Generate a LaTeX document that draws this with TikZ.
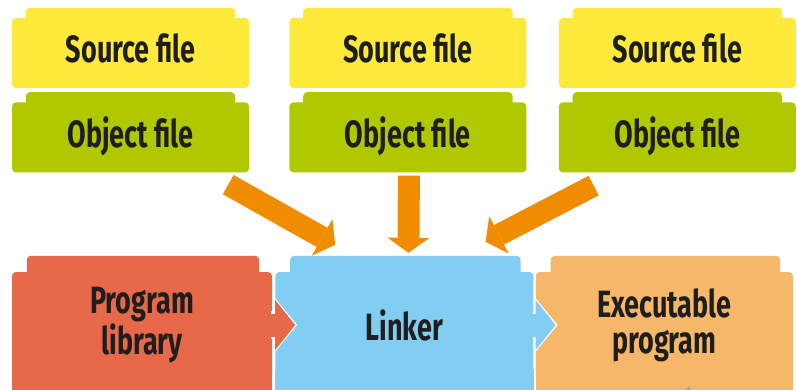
\documentclass[tikz,border=0pt]{standalone}
\usepackage{fontspec}
\setmainfont{Fira Sans}[FakeStretch=0.71]
\usetikzlibrary{arrows.meta, positioning, calc}

\definecolor{srcyellow}{RGB}{255,234,60}
\definecolor{objgreen}{RGB}{175,200,0}
\definecolor{feedorange}{RGB}{240,140,0}
\definecolor{libred}{RGB}{232,104,74}
\definecolor{linkblue}{RGB}{130,205,242}
\definecolor{exeorange}{RGB}{245,183,106}
\definecolor{inkblack}{RGB}{30,30,30}

\begin{document}
\begin{tikzpicture}[
    x=1pt, y=1pt,
    font=\fontsize{38}{36}\selectfont\bfseries,
    filebox/.style={rectangle, rounded corners=4pt, fill=#1, text=inkblack,
                    minimum width=237pt, minimum height=70pt, inner sep=0pt,
                    text height=27pt, text depth=7pt},
    stagebox/.style={rectangle, rounded corners=4pt, fill=#1, text=inkblack,
                     minimum height=106pt, inner sep=0pt, align=center},
    feed/.style={line width=22pt, feedorange,
                 -{Triangle[length=15pt, width=42pt, line width=0pt]}},
    handoff/.style={line width=23pt, #1,
                    -{Triangle[length=20pt, width=50pt, line width=0pt]}},
    rim/.style={line width=28pt, white,
                -{Triangle[length=24pt, width=58pt, line width=0pt]}},
    stubarr/.style={line width=2pt, gray!70, -{Triangle[length=6pt, width=8pt]}},
    node distance=14pt and 40pt
  ]
  \useasboundingbox (0,0) rectangle (797,389);
  \clip (0,0) rectangle (797,389);

  % source and object files
  \node[filebox=srcyellow] (s1) at (130.5,336) {Source file};
  \node[filebox=srcyellow, right=40pt of s1] (s2) {Source file};
  \node[filebox=srcyellow, right=32pt of s2] (s3) {Source file};
  \node[filebox=objgreen, below=of s1] (o1) {Object file};
  \node[filebox=objgreen, below=of s2] (o2) {Object file};
  \node[filebox=objgreen, below=of s3] (o3) {Object file};

  % bottom row
  \node[stagebox=libred, minimum width=260pt] (pl) at (142,64) {Program\\library};
  \node[stagebox=linkblue, minimum width=258pt, right=3pt of pl] (lk) {Linker};
  \node[stagebox=exeorange, minimum width=257pt, right=2pt of lk] (ex) {Executable\\program};

  % tabs on top of the boxes
  \foreach \n/\c in {s1/srcyellow, s2/srcyellow, s3/srcyellow,
                     o1/objgreen, o2/objgreen, o3/objgreen}
    \fill[\c, rounded corners=4pt] ([xshift=14pt, yshift=-6pt]\n.north west)
          rectangle ([xshift=-14pt, yshift=10pt]\n.north east);

  \foreach \n/\c in {pl/libred, lk/linkblue, ex/exeorange} {
    \fill[\c, rounded corners=4pt] ([xshift=15pt, yshift=-6pt]\n.north west)
          rectangle ([xshift=-13pt, yshift=16pt]\n.north east);
    \fill[\c] ([yshift=8pt]\n.south west) rectangle ([yshift=-20pt]\n.south east);
  }

  % object files into the linker
  \draw[feed] ([shift={(-21pt,-12pt)}]o1.south east) -- ([shift={(60pt,27pt)}]lk.north west);
  \draw[feed] ([shift={(1pt,-3pt)}]o2.south) -- ([shift={(4pt,19pt)}]lk.north);
  \draw[feed] ([shift={(35pt,-13pt)}]o3.south west) -- ([shift={(-48pt,30pt)}]lk.north east);

  % hand-over arrows with a white rim
  \foreach \a/\b/\c in {pl/lk/libred, lk/ex/linkblue} {
    \draw[rim] ([xshift=-1pt]\a.east) -- ([xshift=22pt]\b.west);
    \draw[handoff=\c] ([xshift=-1pt]\a.east) -- ([xshift=20pt]\b.west);
  }

  \coordinate (stub) at (688,-12);
  \draw[stubarr] (stub) -- ([shift={(24.5pt,-8pt)}]ex.south);

\end{tikzpicture}
\end{document}
